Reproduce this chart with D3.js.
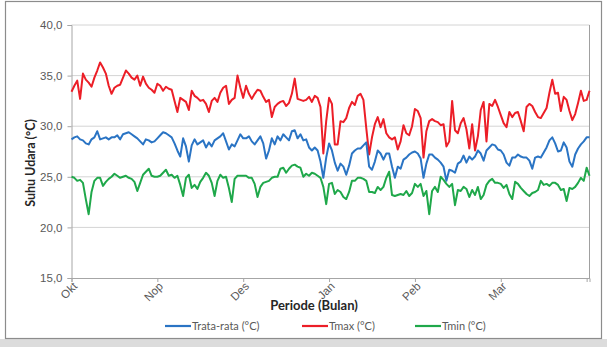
<!DOCTYPE html>
<html>
<head>
<meta charset="utf-8">
<script src="https://cdn.jsdelivr.net/npm/d3@7"></script>
<style>
  html, body { margin: 0; padding: 0; background: #ffffff; }
  svg { display: block; font-family: Lato, "Open Sans", "Liberation Sans", sans-serif; }
</style>
</head>
<body>
<svg id="chart" width="607" height="347"></svg>
<script>
// Daily air temperature, October through March (182 days)
const tmax = [
  33.4,34.0,34.5,32.7,35.2,34.6,34.3,33.9,34.8,35.5,36.3,35.8,35.2,34.0,33.2,33.8,34.0,34.1,34.8,35.5,35.2,34.8,34.6,35.0,34.0,34.9,34.2,33.8,33.6,33.3,
  34.2,34.0,33.5,33.9,33.7,33.6,32.5,31.4,32.8,32.6,32.4,31.6,33.5,33.0,32.8,32.5,32.6,32.2,31.4,32.5,32.8,32.4,33.3,33.8,34.0,32.2,32.6,32.8,35.0,33.8,
  32.8,34.0,33.2,32.7,33.2,33.6,33.5,32.9,32.4,32.6,30.9,31.9,32.2,32.4,32.5,32.0,32.3,33.2,34.7,32.7,32.6,32.5,32.6,32.9,32.4,33.0,32.8,31.9,27.3,30.5,
  32.8,32.2,28.2,28.2,30.5,30.4,30.8,31.8,32.4,32.1,33.0,33.2,32.6,29.8,27.2,28.9,30.2,30.9,29.9,30.7,29.3,28.9,28.7,28.9,27.7,28.5,30.1,29.3,29.1,30.0,
  31.7,31.5,30.8,26.9,29.5,30.5,30.7,30.5,30.4,30.1,30.2,28.0,28.5,32.5,29.6,29.3,30.3,30.8,29.7,27.8,30.2,27.6,29.0,31.6,32.4,28.5,32.2,32.0,32.6,31.9,
  31.1,30.3,29.9,31.4,30.9,31.3,31.4,30.5,29.5,31.9,32.2,32.0,31.4,30.9,30.8,31.3,31.8,33.3,34.6,33.2,33.3,31.5,32.9,32.6,31.5,30.6,31.2,32.3,33.5,32.5,32.6,33.5
];
const tavg = [
  28.7,28.9,29.0,28.7,28.6,28.3,28.2,28.7,28.9,29.5,28.7,28.8,28.9,28.7,28.9,28.9,29.1,28.7,29.2,29.3,29.4,29.2,29.0,28.8,28.5,28.2,28.7,28.6,28.4,28.5,
  28.8,29.1,29.4,29.3,29.1,28.9,28.3,27.6,27.0,28.8,28.0,26.5,28.1,28.7,28.2,28.4,28.6,27.9,28.4,28.0,28.6,28.8,29.0,29.3,28.5,27.7,28.2,28.0,28.6,29.2,
  28.8,28.8,29.0,28.5,28.2,28.6,29.0,28.3,26.8,27.6,28.8,28.2,29.0,28.6,29.2,28.9,28.6,29.5,29.6,28.8,29.2,28.6,28.7,27.9,27.6,27.9,27.6,26.5,24.9,26.9,
  28.3,27.6,26.4,25.6,26.3,26.0,25.2,26.1,27.3,27.6,27.8,27.8,28.1,28.4,26.0,25.7,26.5,27.6,27.3,26.7,27.3,27.3,26.0,24.9,26.0,25.8,26.7,26.9,27.2,27.4,
  27.5,27.3,26.8,24.9,26.3,27.2,27.2,26.9,26.7,26.4,26.0,24.6,25.7,25.6,25.4,26.3,26.5,27.1,26.4,27.0,26.7,27.0,27.6,27.3,26.6,27.6,27.9,28.2,28.1,27.7,
  27.6,27.2,26.4,26.1,26.9,26.9,27.2,27.0,26.9,26.9,26.6,25.8,26.9,27.0,26.9,27.4,27.9,28.6,28.9,28.3,27.5,27.6,28.4,27.9,26.5,26.0,27.2,27.8,28.2,28.5,28.9,28.9
];
const tmin = [
  25.0,24.9,24.6,24.7,24.4,22.8,21.3,23.5,24.6,24.9,24.9,24.1,24.5,24.8,25.0,25.3,25.1,24.9,25.0,25.1,24.9,24.8,24.5,23.6,24.4,25.2,25.5,25.8,25.1,25.0,
  25.0,25.1,25.4,25.7,25.1,25.2,24.9,25.1,24.2,23.1,24.9,25.2,23.9,24.2,23.8,24.5,24.9,25.4,25.1,24.4,23.1,24.6,25.2,24.9,25.0,23.9,22.5,24.8,25.1,25.1,
  25.1,25.1,24.9,24.9,24.3,23.0,24.0,24.4,24.5,24.6,24.9,25.0,25.0,25.8,25.9,25.4,25.8,26.1,26.2,26.0,25.9,25.0,25.3,25.1,25.4,25.3,25.1,24.9,24.0,22.3,
  24.3,24.4,23.3,23.7,23.5,23.0,22.8,23.5,24.6,24.6,24.9,24.9,24.8,24.6,23.5,23.5,23.4,24.0,23.7,24.0,24.9,25.5,23.2,23.1,23.2,23.3,23.2,23.6,23.1,23.4,
  24.3,24.0,24.3,23.1,23.6,21.3,23.6,24.0,23.5,25.0,24.7,24.3,24.0,24.3,22.2,23.7,23.6,24.0,23.8,23.0,23.7,23.2,24.0,22.8,23.2,24.2,24.6,24.8,24.4,24.4,
  24.3,23.9,24.2,23.3,22.8,24.5,24.3,23.9,23.6,23.3,23.1,23.4,23.5,23.7,24.6,24.2,24.3,24.1,24.4,24.4,24.2,23.7,23.8,22.6,23.9,23.8,24.0,24.4,24.9,24.6,25.9,25.1
];

const monthLabels = ["Okt", "Nop", "Des", "Jan", "Peb", "Mar", ""];
const monthTickDays = [0, 30, 60, 90, 120, 150, 180];
const yTicks = [15, 20, 25, 30, 35, 40];

const seriesNames = ["Trata-rata (°C)", "Tmax (°C)", "Tmin (°C)"];
const seriesColors = ["#2a74c4", "#ec1e27", "#1fa84a"];
const seriesValues = [tavg, tmax, tmin];

const svg = d3.select("#chart");
const W = 607, H = 347;
const plot = { left: 71.5, right: 589.5, top: 25, bottom: 278 };

// outer frame of the chart
svg.append("rect").attr("x", 0).attr("y", 0).attr("width", W).attr("height", H).attr("fill", "#ffffff");
svg.append("rect").attr("x", 0).attr("y", 339).attr("width", W).attr("height", H - 339).attr("fill", "#dcdcdc");
svg.append("rect")
  .attr("x", 5.5).attr("y", 1.5).attr("width", 596).attr("height", 337)
  .attr("fill", "none").attr("stroke", "#8c8c8c").attr("stroke-width", 1.2);

const x = d3.scaleLinear().domain([0, tmax.length - 1]).range([plot.left, plot.right]);
const y = d3.scaleLinear().domain([15, 40]).range([plot.bottom, plot.top]);

// horizontal gridlines
svg.append("g")
  .selectAll("line")
  .data(yTicks.filter(v => v > 15))
  .join("line")
  .attr("x1", plot.left).attr("x2", plot.right)
  .attr("y1", d => y(d)).attr("y2", d => y(d))
  .attr("stroke", "#d4d4d4").attr("stroke-width", 1);

// right border of the plot area
svg.append("line")
  .attr("x1", plot.right).attr("x2", plot.right)
  .attr("y1", plot.top).attr("y2", plot.bottom)
  .attr("stroke", "#a0a0a0").attr("stroke-width", 1);

// y axis
const yAxis = d3.axisLeft(y)
  .tickValues(yTicks)
  .tickSize(4)
  .tickPadding(5)
  .tickFormat(d => d3.format(".1f")(d).replace(".", ","));
const gy = svg.append("g").attr("transform", `translate(${plot.left},0)`).call(yAxis);
gy.select(".domain").attr("stroke", "#a6a6a6");
gy.selectAll(".tick line").attr("stroke", "#a6a6a6");
gy.selectAll(".tick text")
  .attr("fill", "#595959")
  .style("font-size", "11.5px");

// x axis, month labels slanted down to the left of each tick
const xAxis = d3.axisBottom(x)
  .tickValues(monthTickDays)
  .tickSize(4)
  .tickFormat((d, i) => monthLabels[i]);
const gx = svg.append("g").attr("transform", `translate(0,${plot.bottom})`).call(xAxis);
gx.select(".domain").attr("stroke", "#a6a6a6");
gx.selectAll(".tick line").attr("stroke", "#a6a6a6");
gx.selectAll(".tick text")
  .attr("fill", "#595959")
  .style("font-size", "11.5px")
  .attr("text-anchor", "end")
  .attr("x", 0).attr("y", 0).attr("dy", "0")
  .attr("transform", "translate(6,9) rotate(-45)");

// temperature lines
const line = d3.line().x((d, i) => x(i)).y(d => y(d)).curve(d3.curveLinear);
const drawOrder = [1, 0, 2];
drawOrder.forEach(k => {
  svg.append("path")
    .datum(seriesValues[k])
    .attr("fill", "none")
    .attr("stroke", seriesColors[k])
    .attr("stroke-width", 2)
    .attr("stroke-linejoin", "round")
    .attr("d", line);
});

// axis titles
svg.append("text")
  .attr("transform", "translate(35,163) rotate(-90)")
  .attr("text-anchor", "middle")
  .attr("fill", "#262626")
  .style("font-size", "12.5px")
  .style("font-weight", "bold")
  .text("Suhu Udara (°C)");

svg.append("text")
  .attr("x", 314).attr("y", 310)
  .attr("text-anchor", "middle")
  .attr("fill", "#262626")
  .style("font-size", "13px")
  .style("font-weight", "bold")
  .text("Periode (Bulan)");

// legend
const legendX = [165, 302, 415];
const lg = svg.append("g").attr("transform", "translate(0,326)");
seriesNames.forEach((name, k) => {
  lg.append("line")
    .attr("x1", legendX[k]).attr("x2", legendX[k] + 26)
    .attr("y1", 0).attr("y2", 0)
    .attr("stroke", seriesColors[k]).attr("stroke-width", 2.2);
  lg.append("text")
    .attr("x", legendX[k] + 27).attr("y", 4)
    .attr("fill", "#595959")
    .style("font-size", "11px")
    .text(name);
});
</script>
</body>
</html>
